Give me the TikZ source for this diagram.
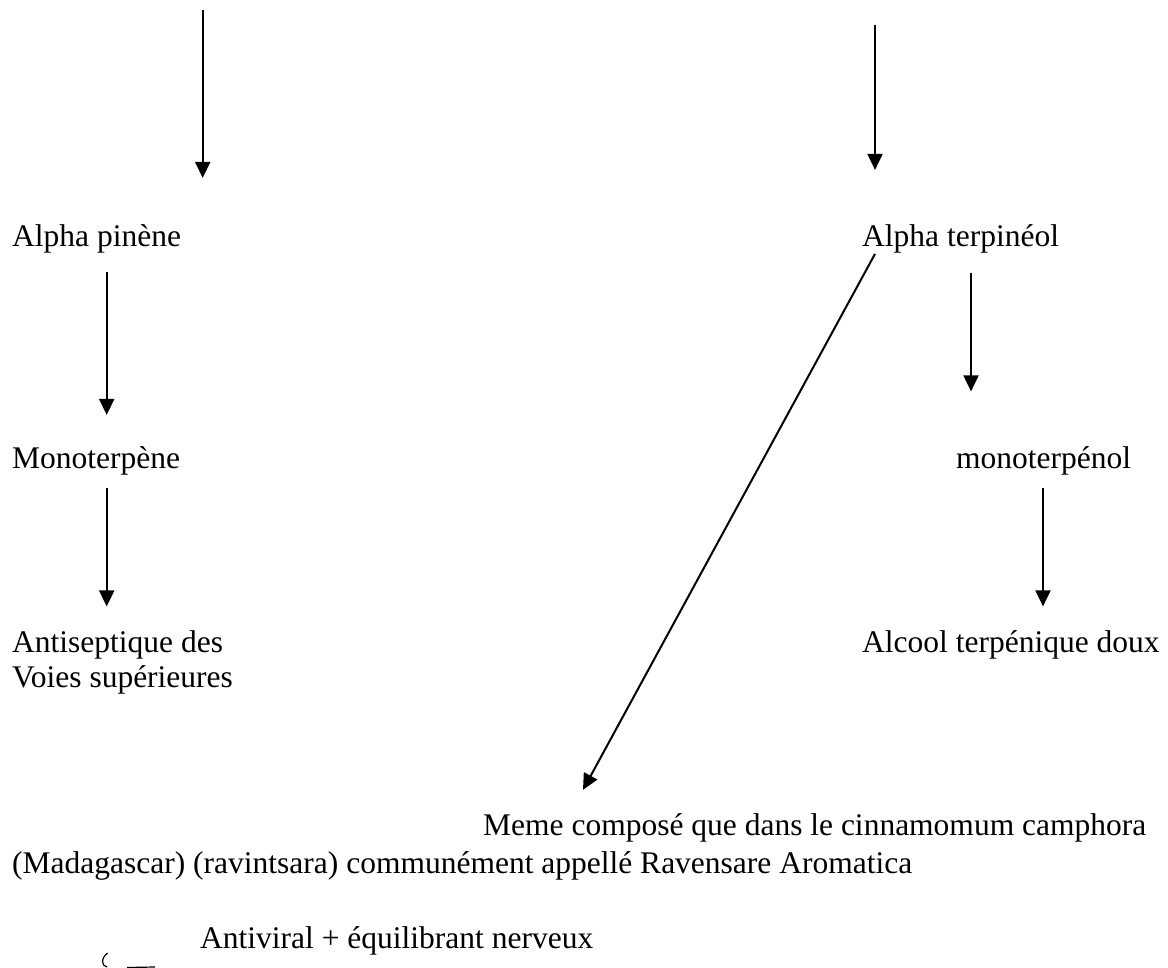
\documentclass[tikz,border=0pt]{standalone}
\usepackage{fontspec}
\setmainfont{Liberation Serif}
\usetikzlibrary{arrows.meta}

\tikzset{
  label/.style={anchor=base west, inner sep=0pt, font=\fontsize{31.5}{35}\selectfont},
  arr/.style={line width=2pt, ->, >={Triangle[length=16pt,width=15pt]}},
}

\begin{document}
\begin{tikzpicture}[x=1pt, y=-1pt]
    \useasboundingbox[fill=white] (0,0) rectangle (1168,968);

    % free upper ends of the two first arrows
    \coordinate (topleft) at (202.7,10);
    \coordinate (topright) at (875,25);

    \node[label] (pinene) at (12,247) {Alpha pinène};
    \node[label] (terpineol) at (862,247) {Alpha terpinéol};
    \node[label] (monoterpene) at (12,468) {Monoterpène};
    \node[label] (monoterpenol) at (956,468) {monoterpénol};
    \node[label] (antisept) at (12,652) {Antiseptique des};
    \node[label] (voies) at (12,687) {Voies supérieures};
    \node[label] (alcool) at (862,652) {Alcool terpénique doux};
    \node[label] (meme) at (483,835) {Meme composé que dans le cinnamomum camphora};
    \node[label] (madag) at (12,873) {(Madagascar) (ravintsara) communément appellé Ravensare Aromatica};
    \node[label] (antiviral) at (200,948) {Antiviral + équilibrant nerveux};

    % Arrows from above
    \draw[arr, shorten >=47pt] (topleft) -- (topleft |- pinene.north);
    \draw[arr, shorten >=55pt] (topright) -- (topright |- terpineol.north);

    % Left column
    \draw[arr, shorten <=18pt, shorten >=31pt]
      ([xshift=94.7pt]pinene.south west) -- ([xshift=94.7pt]monoterpene.north west);
    \draw[arr, shorten <=13pt, shorten >=23.5pt]
      ([xshift=94.7pt]monoterpene.south west) -- ([xshift=94.7pt]antisept.north west);

    % Right column
    \draw[arr, shorten <=19pt, shorten >=54.5pt]
      ([xshift=109pt]terpineol.south west) -- ([xshift=15pt]monoterpenol.north west);
    \draw[arr, shorten <=13pt, shorten >=23.5pt]
      ([xshift=87pt]monoterpenol.south west) -- ([xshift=181pt]alcool.north west);

    % Diagonal arrow
    \draw[arr] ([xshift=13pt]terpineol.south west) -- ([xshift=100pt,yshift=23pt]meme.north west);

    % small hand-drawn brace
    \draw[line width=1.2pt] (107.5,953) .. controls (101,958) and (101,966) .. (107,967);
    \draw[line width=1.2pt] (127,967.5) -- (155,967);
\end{tikzpicture}
\end{document}
